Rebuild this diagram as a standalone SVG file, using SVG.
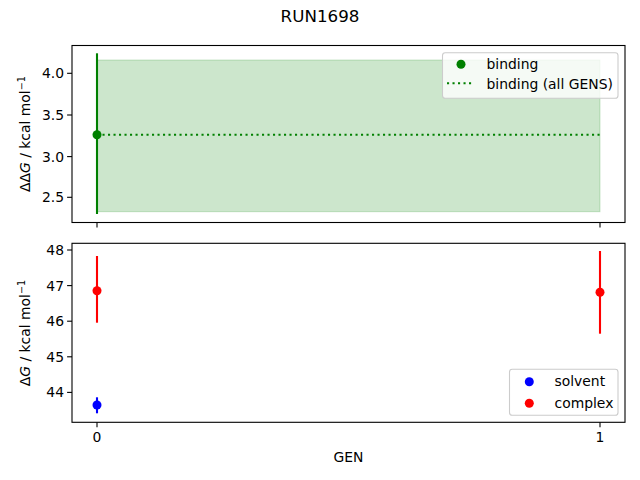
<svg xmlns="http://www.w3.org/2000/svg" width="640" height="480" viewBox="0 0 640 480">
<style>
text{font-family:"DejaVu Sans",sans-serif;fill:#000}
.t{font-size:13.9px}
.tick{stroke:#000;stroke-width:1.1}
.ax{fill:none;stroke:#000;stroke-width:1.1}
.leg{fill:#fff;fill-opacity:0.8;stroke:#cccccc;stroke-width:1.1}
</style>
<rect width="640" height="480" fill="#fff"/>
<text x="320" y="22" font-size="16.7px" text-anchor="middle">RUN1698</text>

<g id="top-axes">
<rect x="97" y="60" width="503" height="151.7" fill="#008000" fill-opacity="0.2" stroke="#008000" stroke-opacity="0.2"/>
<line x1="97" y1="134.8" x2="600" y2="134.8" stroke="#008000" stroke-width="2.1" stroke-dasharray="2.1,3.4"/>
<line x1="97" y1="53.3" x2="97" y2="214" stroke="#008000" stroke-width="2.1"/>
<circle cx="97" cy="134.8" r="4.5" fill="#008000"/>
<rect class="ax" x="72" y="45.5" width="553" height="177"/>
<g class="tick">
<line x1="72" y1="73.3" x2="67.1" y2="73.3"/>
<line x1="72" y1="115" x2="67.1" y2="115"/>
<line x1="72" y1="156.6" x2="67.1" y2="156.6"/>
<line x1="72" y1="197.3" x2="67.1" y2="197.3"/>
<line x1="97" y1="222.5" x2="97" y2="227.4"/>
<line x1="600" y1="222.5" x2="600" y2="227.4"/>
</g>
<g class="t" text-anchor="end">
<text x="64" y="78.3">4.0</text>
<text x="64" y="120">3.5</text>
<text x="64" y="161.6">3.0</text>
<text x="64" y="202.3">2.5</text>
</g>
<text class="t" transform="translate(30,134) rotate(-90)" text-anchor="middle">ΔΔ<tspan font-style="italic">G</tspan> / kcal mol<tspan font-size="9.7px" dy="-5">−1</tspan></text>
<g id="top-legend">
<rect class="leg" x="442.5" y="52.7" width="175.5" height="45.6" rx="2.8"/>
<circle cx="461" cy="64.3" r="4.5" fill="#008000"/>
<line x1="447" y1="83.3" x2="473" y2="83.3" stroke="#008000" stroke-width="2.1" stroke-dasharray="2.1,3.4"/>
<text class="t" x="486.5" y="69">binding</text>
<text class="t" x="486.5" y="88.5">binding (all GENS)</text>
</g>
</g>

<g id="bottom-axes">
<line x1="97" y1="256" x2="97" y2="322.7" stroke="#ff0000" stroke-width="2.1"/>
<circle cx="97" cy="290.7" r="4.5" fill="#ff0000"/>
<line x1="600" y1="251" x2="600" y2="333.7" stroke="#ff0000" stroke-width="2.1"/>
<circle cx="600" cy="292.3" r="4.5" fill="#ff0000"/>
<line x1="97" y1="397.3" x2="97" y2="413.3" stroke="#0000ff" stroke-width="2.1"/>
<circle cx="97" cy="405" r="4.5" fill="#0000ff"/>
<rect class="ax" x="72" y="243.3" width="553" height="179"/>
<g class="tick">
<line x1="72" y1="250" x2="67.1" y2="250"/>
<line x1="72" y1="285.6" x2="67.1" y2="285.6"/>
<line x1="72" y1="321.2" x2="67.1" y2="321.2"/>
<line x1="72" y1="356.8" x2="67.1" y2="356.8"/>
<line x1="72" y1="392.4" x2="67.1" y2="392.4"/>
<line x1="97" y1="422.3" x2="97" y2="427.2"/>
<line x1="600" y1="422.3" x2="600" y2="427.2"/>
</g>
<g class="t" text-anchor="end">
<text x="64" y="255">48</text>
<text x="64" y="290.6">47</text>
<text x="64" y="326.2">46</text>
<text x="64" y="361.8">45</text>
<text x="64" y="397.4">44</text>
</g>
<g class="t" text-anchor="middle">
<text x="97" y="442">0</text>
<text x="600" y="442">1</text>
<text x="348.5" y="462">GEN</text>
</g>
<text class="t" transform="translate(30,333) rotate(-90)" text-anchor="middle">Δ<tspan font-style="italic">G</tspan> / kcal mol<tspan font-size="9.7px" dy="-5">−1</tspan></text>
<g id="bottom-legend">
<rect class="leg" x="509.5" y="369.3" width="108.5" height="46" rx="2.8"/>
<circle cx="529.3" cy="381.7" r="4.5" fill="#0000ff"/>
<circle cx="529.3" cy="403.3" r="4.5" fill="#ff0000"/>
<text class="t" x="554.5" y="386">solvent</text>
<text class="t" x="554.5" y="407.5">complex</text>
</g>
</g>
</svg>
